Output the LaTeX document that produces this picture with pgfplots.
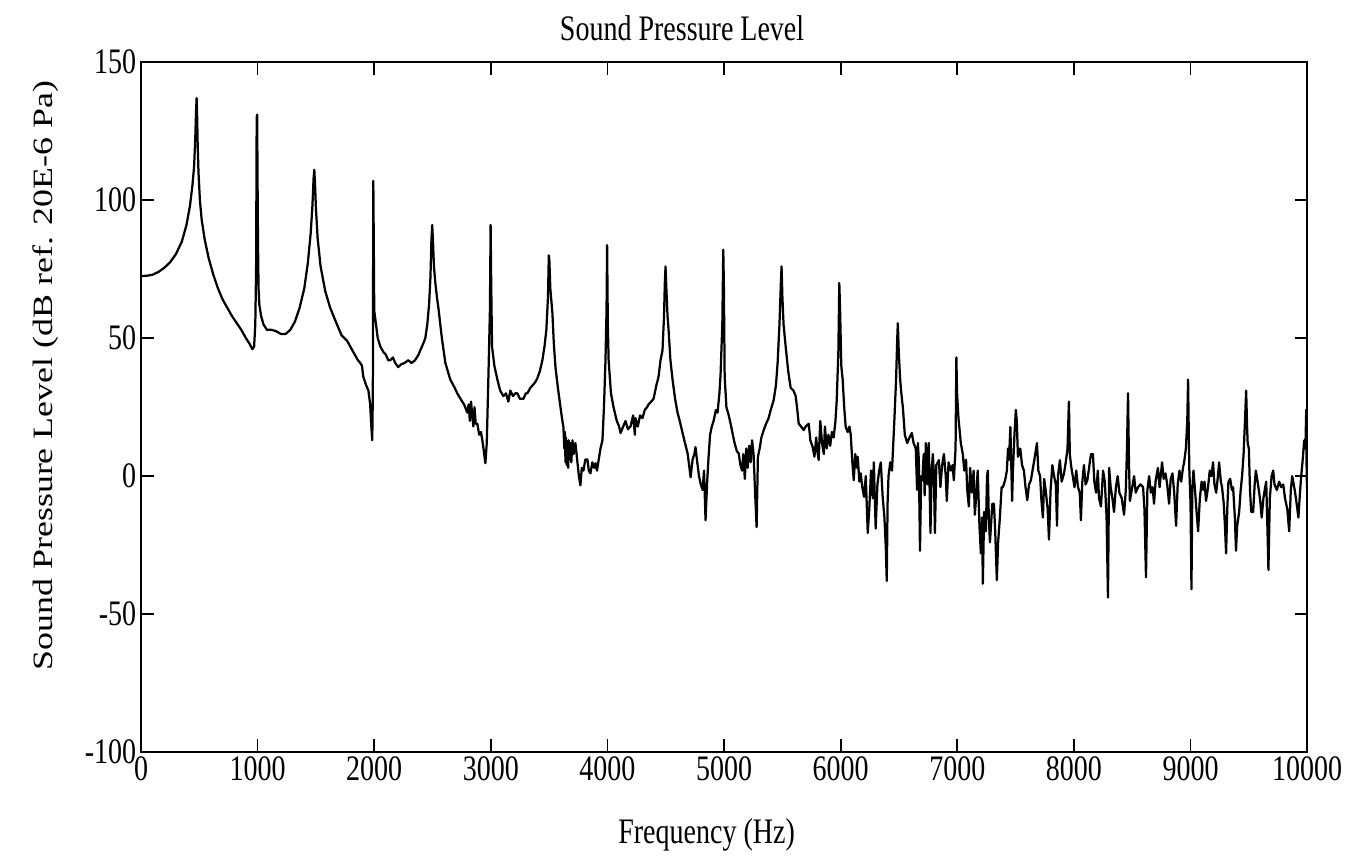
\documentclass[border=0pt]{standalone}
\usepackage{fontspec}
\setmainfont{Liberation Serif}
\usepackage{pgfplots}
\usepackage{pgfplotstable}
\pgfplotsset{compat=1.18}
\pgfplotstableread{
x y
0 72.5
50 72.6
100 73
150 74
200 75.5
250 77.5
300 80.5
350 85
390 91
420 98
440 105
455 112
465 122
472 132
477 137
481 131
486 120
493 110
505 100
520 93
545 86
580 79
620 73
660 68
700 64
740 61
780 58
820 55.5
860 53
900 50
930 48
955 46
970 47
980 55
987 75
992 130
996 131
999 110
1003 85
1008 68
1015 62
1030 58
1050 55
1080 53
1120 53
1160 52.5
1200 51.5
1240 51.5
1280 53
1320 56
1360 61
1400 68
1430 77
1455 88
1470 98
1480 108
1486 111
1492 106
1500 97
1515 86
1540 76
1580 67
1622 61
1680 55
1720 51
1768 49
1820 45
1860 42
1880 41
1895 40
1906 36
1930 33
1950 31
1965 26
1975 18
1983 13
1988 30
1992 107
1996 85
2000 60
2009 57
2030 50
2052 47
2078 45
2100 44
2120 42
2137 42
2160 43
2180 41
2206 39.5
2230 40.5
2260 41
2292 42
2320 41
2350 42
2380 44
2395 45.6
2420 48
2438 50
2455 55
2470 62
2482 72
2490 85
2497 91
2503 86
2512 76
2524 70
2540 64
2550 61
2580 50
2610 41
2652 35
2690 32
2712 30
2740 28
2770 26
2798 23
2810 26
2820 20
2830 27
2841 22
2850 18
2860 25
2870 19
2884 19
2900 15
2915 16
2927 13
2940 9
2953 4.7
2965 12
2979 36
2992 60
2998 91
3003 70
3010 47
3030 40
3056 35
3080 31
3107 29
3130 30
3150 27
3167 31
3190 29
3210 30
3227 30
3250 28
3279 28
3300 30
3313 30
3339 32
3360 33
3380 34
3399 35.5
3420 38
3442 42
3460 47
3476 53
3490 65
3497 80
3502 78
3510 68
3528 59
3540 48
3554 39.5
3575 32
3597 25
3610 21
3622 17.8
3630 10
3635 16
3640 5
3645 14
3650 4
3657 10.5
3663 3
3668 13
3675 6
3682 12
3690 5
3700 13
3710 8
3725 12
3740 6
3755 0
3768 -3.3
3780 3
3794 2
3810 6
3828 6
3840 2
3854 1
3870 5
3885 3
3897 4.7
3910 2
3925 6
3940 10
3957 13
3970 25
3983 42
3992 60
3997 83.7
4003 55
4010 42
4030 30
4052 25
4080 20
4100 18
4112 15.6
4135 18
4155 20
4175 17
4198 18
4220 22
4235 15
4240 21
4260 18
4280 22
4300 21
4320 24
4340 25
4352 26
4375 27
4395 28
4420 33
4438 36
4455 42
4472 45.6
4485 58
4492 70
4498 76
4505 68
4515 58
4524 53
4540 42
4558 35
4580 28
4601 23
4620 20
4644 15.6
4665 12
4687 8.3
4700 4
4713 -0.4
4730 6
4745 8
4755 10.5
4770 5
4785 0
4800 -3
4816 -5
4828 2
4841 -16
4855 -2
4867 7
4880 15
4895 18
4910 20
4930 24
4944 23
4960 30
4970 37
4985 55
4993 82
4998 70
5005 36
5020 25
5040 22
5056 19
5075 15
5090 12
5110 9
5125 8.3
5140 4
5155 2
5165 8
5178 -1
5190 10
5202 3
5215 11
5228 5
5240 13
5253 8
5265 -5
5279 -18.5
5290 7
5305 10
5320 14
5340 16.7
5360 19
5382 21
5400 24
5425 27.5
5445 33
5459 41
5475 55
5487 70
5493 76
5500 65
5510 55
5528 47
5550 38
5571 32
5595 31
5614 29
5628 24
5640 19
5660 18
5683 16.7
5700 18
5726 19
5740 13
5760 10.5
5775 7
5790 14
5800 9
5811 5.8
5825 20
5840 12
5855 8
5865 18
5880 10
5895 15
5910 11
5925 16
5940 14
5955 20
5966 27.5
5980 45
5988 70
5995 60
6005 40
6017 35
6030 25
6043 17.8
6060 16
6075 18
6086 15
6100 5
6112 -1.5
6125 8
6140 3
6146 7
6160 -2
6172 1
6185 -4
6200 -7.5
6215 0
6232 -20.6
6245 -12
6260 2
6275 -8
6284 5
6300 -19
6315 -3
6330 2
6344 5
6360 -7.5
6375 -15
6387 -26
6395 -38
6402 -10
6410 0
6425 5
6440 2
6447 8.3
6460 20
6475 35
6485 50
6490 55.4
6498 45
6510 35
6520 30
6533 25
6550 15
6570 12
6590 14
6610 15.6
6625 12
6644 10
6655 -5
6662 12
6670 5.8
6680 -27
6690 0
6700 -1.5
6712 8
6720 -7
6730 12
6745 -3
6755 12
6770 -20.6
6780 2
6790 8
6799 1
6808 -20.6
6820 4
6842 5.8
6855 -4
6870 4
6885 8
6901 0
6910 -9
6925 5
6945 2
6960 4
6970 -1.5
6985 10
6992 43
6998 30
7010 21
7030 12
7047 8
7060 2
7075 6
7085 -5
7099 -11
7110 3
7125 -6
7140 2
7150 -14
7159 -9
7175 2
7190 -18
7202 -28
7212 -15
7219 -39
7230 -13
7245 -20
7255 0
7262 2
7270 -15
7280 -24
7300 -10
7314 -10
7325 -20
7339 -37.7
7350 -24
7365 -15
7380 -4
7391 -4
7410 -1.5
7425 2
7435 10
7443 5.8
7455 17.8
7470 -9
7477 2
7490 15
7502 24
7510 20
7520 7
7540 10
7555 4
7571 2
7585 -4
7600 -8.7
7615 -3
7631 -1.5
7645 2
7660 5.8
7683 12
7695 2
7710 0
7720 -8
7734 -15
7745 -1
7760 -6
7775 -12
7786 -23
7800 -5
7815 4
7830 0
7845 -3
7855 -18
7863 0
7880 5.8
7895 -2
7915 1
7930 5
7945 10
7957 27
7965 8
7975 4
7990 0
8005 -4
8020 2
8035 -4
8050 -6
8060 -16
8072 -2
8086 4
8100 -3
8115 -1.5
8130 3
8146 8
8163 8
8175 -2
8190 -6
8205 2
8215 -8
8232 -11
8250 2
8265 -2
8280 -15
8292 -44
8302 3
8315 -4
8330 -8
8344 -13
8360 -4
8375 0
8390 -6
8410 -8
8430 -14
8445 -5
8455 10
8464 30
8472 5
8480 -9
8500 -4
8516 0
8530 -6
8550 -4
8570 -3
8593 -4
8605 -12
8618 -36.6
8630 -5
8645 0
8660 -6
8675 -4
8687 -10
8700 -2
8720 3
8735 -4
8756 5
8770 -1
8785 1
8800 -3
8816 -10
8830 -1
8845 1
8860 -6
8876 -18
8890 -3
8905 2
8920 -2
8935 3
8945 5
8960 10
8972 20
8979 35
8985 15
8990 2
9000 -10
9008 -41
9015 -5
9025 2
9040 -6
9050 -12
9065 -20
9080 -8
9095 -2
9110 -5
9120 -2
9133 -9
9150 -4
9165 2
9180 0
9193 5
9205 -3
9220 -6
9235 0
9245 5
9260 -2
9270 -4
9285 -10
9295 -18
9305 -28
9315 -12
9325 -2
9340 -1
9355 -5
9365 -4
9380 -15
9390 -27
9400 -18
9417 -13
9430 -5
9442 0
9455 8
9465 18
9477 31
9485 18
9490 12
9500 10
9510 -5
9520 -13
9537 -13
9550 -3
9560 2
9575 -2
9589 -6
9600 -10
9610 -15
9625 -8
9640 -4
9649 -2
9660 -20
9668 -34
9680 -8
9695 0
9709 2
9720 -3
9740 -5
9760 -2
9777 -4
9795 -3
9810 -8
9830 -12
9846 -20
9860 -5
9872 0
9885 -3
9897 -6
9910 -10
9925 -15
9940 -5
9949 0
9960 5
9975 13
9985 10
9992 24
9996 0
10000 -5
}\spl
\begin{document}
\begin{tikzpicture}
\begin{axis}[
  scale only axis,
  width=416.3pt, height=246.3pt,
  xmin=0, xmax=10000, ymin=-100, ymax=150,
  xtick={0,1000,...,10000}, ytick={-100,-50,...,150},
  scaled x ticks=false, scaled y ticks=false,
  tick align=inside, tick pos=both,
  major tick length=4.5pt,
  axis line style={line width=0.6pt},
  every tick/.style={black, line width=0.6pt},
  xticklabel={\scalebox{1}[1.28]{\pgfmathprintnumber[assume math mode=true,1000 sep={}]{\tick}}},
  yticklabel={\scalebox{1}[1.28]{\pgfmathprintnumber[assume math mode=true,1000 sep={}]{\tick}}},
  xticklabel style={inner sep=1.5pt},
  yticklabel style={inner sep=1.5pt},
  title={\scalebox{1}[1.28]{Sound Pressure Level}},
  title style={at={(axis description cs:0.464,1.007)}, anchor=base},
  xlabel={\scalebox{1}[1.28]{Frequency (Hz)}},
  xlabel style={at={(axis description cs:0.485,-0.132)}, anchor=base},
  ylabel={\scalebox{1.28}[1]{Sound Pressure Level (dB ref. 20E-6 Pa)}},
  ylabel style={at={(axis description cs:-0.082,0.546)}, anchor=center},
]
\addplot[black, line width=0.8pt, line join=round] table[x=x, y=y] {\spl};
\end{axis}
\pgfresetboundingbox
\path[use as bounding box] (-50.34pt,-38.2pt) rectangle (436.6pt,268.5pt);
\end{tikzpicture}
\end{document}
